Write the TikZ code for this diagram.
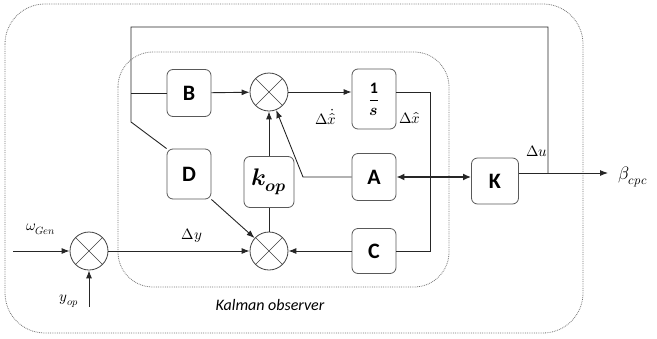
\documentclass[tikz,border=0pt]{standalone}
\usepackage{amsmath}
\usepackage{fontspec}
\usepackage{unicode-math}
\setmainfont{Carlito}
\setmathfont{Latin Modern Math}
\usetikzlibrary{arrows.meta}
\begin{document}
\begin{tikzpicture}[x=1pt,y=-1pt,
    block/.style={draw=black!65, rounded corners=6pt, line width=0.8pt,
      minimum width=44pt, minimum height=47pt, inner sep=0pt,
      font=\fontsize{22}{24}\selectfont\bfseries},
    sumnode/.style={circle, draw=black!75, line width=0.8pt, minimum size=38pt,
      inner sep=0pt, path picture={
        \draw[black!75, line width=0.6pt] (path picture bounding box.south west) -- (path picture bounding box.north east);
        \draw[black!75, line width=0.6pt] (path picture bounding box.north west) -- (path picture bounding box.south east);}},
    sig/.style={draw=black!85, line width=0.9pt},
    arr/.style={sig, -{Latex[length=8pt,width=6pt]}},
    lbl/.style={inner sep=1pt, font=\fontsize{15}{17}\selectfont},
    frame/.style={draw=black!55, densely dotted, line width=0.8pt}]
  \useasboundingbox (0,0) rectangle (657,338);
  % Frames
  \draw[frame, rounded corners=40pt] (5,4) rectangle (583,333);
  \draw[frame, rounded corners=35pt] (118,52) rectangle (449,287);
  % Blocks
  \node[block] (B) at (189,93) {B};
  \node[sumnode] (s1) at (269,92) {};
  \node[block, minimum height=60pt, font=\fontsize{16}{18}\selectfont] (inv) at (374,99) {$\dfrac{\mathbf{1}}{\mathbfit{s}}$};
  \node[block] (A) at (374,177) {A};
  \node[block, minimum width=47pt, minimum height=46pt] (K) at (495,181) {K};
  \node[block, minimum height=45pt] (C) at (374,251) {C};
  \node[sumnode] (s2) at (269,251) {};
  \node[block, minimum width=50pt, minimum height=51pt, font=\fontsize{24}{26}\selectfont] (kop) at (269,182) {$\mathbfit{k}_{\mathbfit{op}}$};
  \node[block, minimum height=50pt] (D) at (189,174) {D};
  \node[sumnode] (s0) at (89,251) {};
  % Corner points
  \coordinate (fbL) at (131,27);
  \coordinate (fbR) at (548,27);
  \coordinate (uTap) at (548,173);
  \coordinate (fbB) at (131,93);
  \coordinate (fbD) at (131,122);
  \coordinate (aBend) at (303,177);
  \coordinate (xOut) at (430,92);
  \coordinate (betaEnd) at (608,173);
  \coordinate (wIn) at (13,251);
  \coordinate (yIn) at (89,307);
  % Feedback of the input
  \draw[sig] (uTap) -- (fbR) -- (fbL) -- (fbD) -- (D.north west);
  \draw[sig] (fbB) -- (B.west);
  % Upper path
  \draw[arr] (B) -- (s1);
  \draw[arr] (s1.east) -- (s1.east -| inv.west);
  \draw[sig] (s1.east -| inv.east) -- (xOut) -- (xOut |- C.east) -- (C.east);
  \draw[arr] (A.west) -- (aBend) -- (s1);
  \draw[sig, line width=1.6pt, {Latex[length=8pt,width=7pt]}-{Latex[length=8pt,width=7pt]}] (A.east) -- (A.east -| K.west);
  \draw[arr] (K.east |- uTap) -- (betaEnd);
  % Lower path
  \draw[arr] (C) -- (s2);
  \draw[sig] (s2) -- (kop);
  \draw[arr] (kop) -- (s1);
  \draw[arr] (D.south east) -- (s2);
  \draw[arr] (s0) -- (s2);
  \draw[arr] (wIn) -- (s0);
  \draw[arr] (yIn) -- (s0);
  % Labels
  \node[lbl] (lwGen) at (41,229) {$\omega_{Gen}$};
  \node[lbl] (lyop) at (69,301) {$y_{op}$};
  \node[lbl] (ldy) at (192,236) {$\Delta y$};
  \node[lbl] (ldx1) at (326,117) {$\Delta\dot{\hat{x}}$};
  \node[lbl] (ldx2) at (410,118) {$\Delta\hat{x}$};
  \node[lbl] (ldu) at (537,151) {$\Delta u$};
  \node[lbl, font=\fontsize{18}{20}\selectfont] (lbeta) at (633,177) {$\beta_{cpc}$};
  \node[font=\fontsize{16}{18}\selectfont\itshape] (lkal) at (270,305) {Kalman observer};
\end{tikzpicture}
\end{document}
